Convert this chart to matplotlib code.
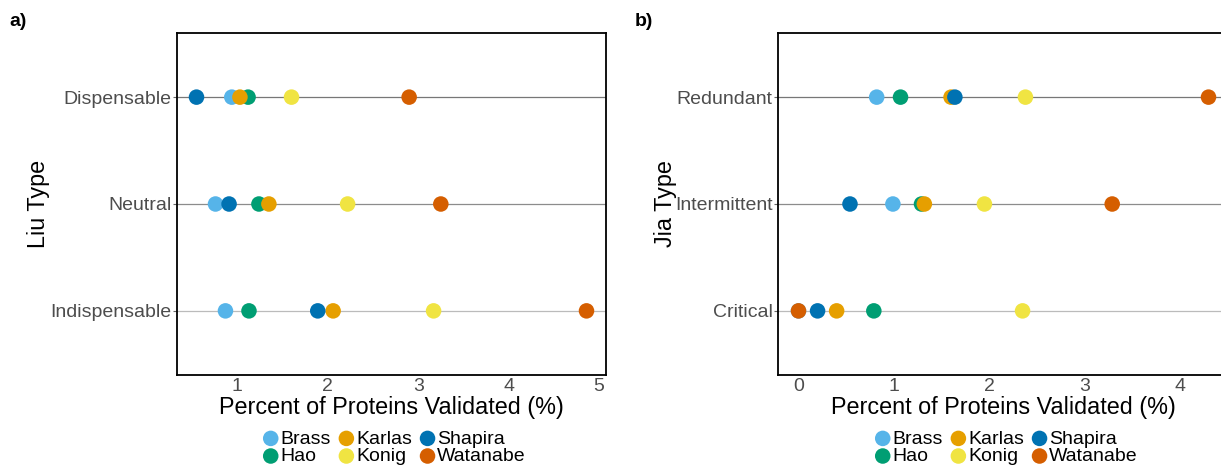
import matplotlib
matplotlib.use("Agg")
import matplotlib.pyplot as plt

plt.rcParams['font.family'] = ['Liberation Sans', 'DejaVu Sans']

# studies, drawn in this order
studies = ["Brass", "Hao", "Karlas", "Konig", "Shapira", "Watanabe"]
colors = ["#56B4E9", "#009E73", "#E69F00", "#F0E442", "#0072B2", "#D55E00"]

# panel a: Liu type (bottom to top)
liu_types = ["Indispensable", "Neutral", "Dispensable"]
liu_vals = {
    "Brass":    [0.87, 0.76, 0.94],
    "Hao":      [1.13, 1.24, 1.12],
    "Karlas":   [2.06, 1.35, 1.03],
    "Konig":    [3.17, 2.22, 1.60],
    "Shapira":  [1.89, 0.91, 0.55],
    "Watanabe": [4.86, 3.25, 2.90],
}

# panel b: Jia type (bottom to top)
jia_types = ["Critical", "Intermittent", "Redundant"]
jia_vals = {
    "Brass":    [0.00, 0.99, 0.82],
    "Hao":      [0.79, 1.29, 1.07],
    "Karlas":   [0.40, 1.32, 1.60],
    "Konig":    [2.35, 1.95, 2.38],
    "Shapira":  [0.20, 0.54, 1.64],
    "Watanabe": [0.00, 3.29, 4.30],
}

line_cols = ["#bbbbbb", "#8c8c8c", "#777777"]

fig = plt.figure(figsize=(12.21, 4.66), dpi=100)
W, H = 1221, 466


def panel(rect, cats, vals, ylab, ylab_x, xticks, tag, tag_x):
    ax = fig.add_axes(rect)
    for i, c in enumerate(cats):
        ax.axhline(i + 1, color=line_cols[i], lw=0.9, zorder=1)
    allv = []
    for s, col in zip(studies, colors):
        ys = list(range(1, len(cats) + 1))
        ax.scatter(vals[s], ys, s=125, color=col, edgecolors='none', zorder=3, label=s)
        allv += vals[s]
    lo, hi = min(allv), max(allv)
    pad = 0.05 * (hi - lo)
    ax.set_xlim(lo - pad, hi + pad)
    ax.set_ylim(0.4, 3.6)
    ax.set_yticks(range(1, len(cats) + 1))
    ax.set_yticklabels(cats)
    ax.set_xticks(xticks)
    ax.set_xticklabels([str(t) for t in xticks])
    ax.tick_params(axis='x', length=0, pad=2, labelsize=14, labelcolor='#4d4d4d')
    ax.tick_params(axis='y', length=3, width=0.8, color='#666666', pad=1,
                   labelsize=14, labelcolor='#4d4d4d')
    for sp in ax.spines.values():
        sp.set_linewidth(1.3)
        sp.set_color('black')
    ax.set_xlabel("Percent of Proteins Validated (%)", fontsize=16.8, color='black')
    ax.xaxis.set_label_coords(0.5, -0.095)
    ax.xaxis.label.set_va('center')
    ax.set_ylabel(ylab, fontsize=16.8, color='black')
    ax.yaxis.set_label_coords(ylab_x, 0.5)
    ax.yaxis.label.set_va('center')
    ax.legend(loc='center', bbox_to_anchor=(0.5, -0.212), ncol=3, frameon=False,
              fontsize=14, handletextpad=-0.2, columnspacing=0.1,
              labelspacing=0.0, handlelength=1.4, borderpad=0, markerscale=1.0)
    fig.text(tag_x / W, 1 - 22 / H, tag, fontsize=14, fontweight='bold', va='center')
    return ax


panel([177 / W, 1 - 375 / H, 429 / W, 342 / H], liu_types, liu_vals,
      "Liu Type", -0.324, [1, 2, 3, 4, 5], "a)", 9)
panel([778 / W, 1 - 375 / H, 451 / W, 342 / H], jia_types, jia_vals,
      "Jia Type", -0.25, [0, 1, 2, 3, 4], "b)", 635)

fig.savefig("out.png", dpi=100)
